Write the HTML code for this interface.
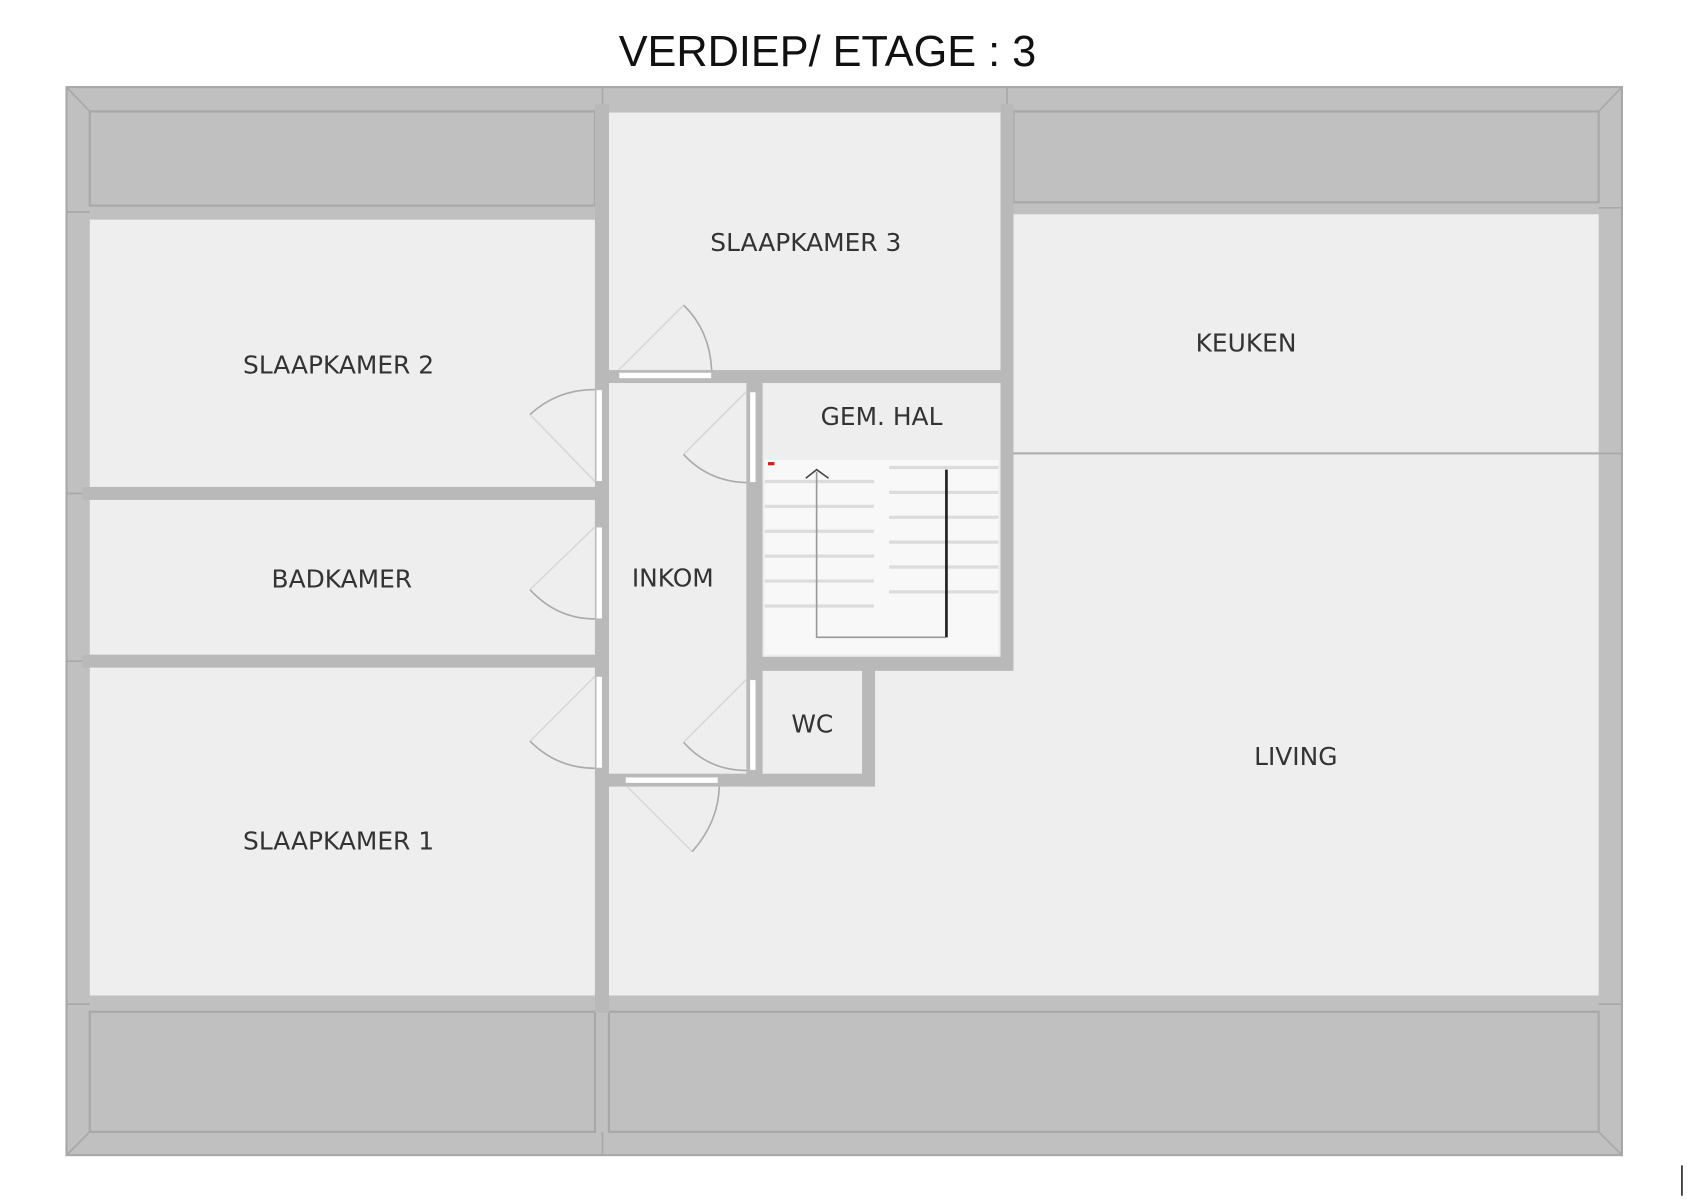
<!DOCTYPE html>
<html><head><meta charset="utf-8"><style>
html,body{margin:0;padding:0;background:#fff;}
svg{display:block;}
text{font-family:"DejaVu Sans","Liberation Sans",sans-serif;fill:#333;}
</style></head><body>
<svg width="1696" height="1200" viewBox="0 0 1568 1109" preserveAspectRatio="none" xmlns="http://www.w3.org/2000/svg">
<rect width="1568" height="1109" fill="#fff"/>
<text x="765" y="61" text-anchor="middle" font-size="40" style="font-family:'Liberation Sans',sans-serif;fill:#111">VERDIEP/ ETAGE : 3</text>
<!-- outer -->
<rect x="61.5" y="80.5" width="1438" height="987" fill="#c0c0c0" stroke="#a8a8a8" stroke-width="2"/>
<!-- roof bands inner rects -->
<g fill="#c0c0c0" stroke="#a8a8a8" stroke-width="2">
<rect x="83" y="103" width="467" height="87"/>
<rect x="937" y="103" width="541" height="84"/>
<rect x="83" y="935" width="467" height="111"/>
<rect x="563" y="935" width="915" height="111"/>
</g>
<g stroke="#a8a8a8" stroke-width="1.5" fill="none">
<line x1="61" y1="80" x2="83" y2="103"/><line x1="1500" y1="80" x2="1478" y2="103"/>
<line x1="61" y1="1068" x2="83" y2="1046"/><line x1="1500" y1="1068" x2="1478" y2="1046"/>
<line x1="61" y1="196" x2="83" y2="196"/><line x1="61" y1="456" x2="83" y2="456"/><line x1="61" y1="611" x2="83" y2="611"/>
<line x1="61" y1="928" x2="83" y2="928"/><line x1="1478" y1="928" x2="1500" y2="928"/><line x1="1478" y1="192" x2="1500" y2="192"/>
<line x1="1478" y1="419" x2="1500" y2="419"/>
<line x1="557" y1="80" x2="557" y2="103"/><line x1="931" y1="80" x2="931" y2="103"/>
<line x1="557" y1="1046" x2="557" y2="1068"/>
</g>
<!-- walls slightly darker between rooms -->
<g fill="#b9b9b9">
<rect x="550" y="96" width="13" height="840"/>
<rect x="925" y="96" width="12" height="525"/>
<rect x="76" y="450" width="480" height="12"/>
<rect x="76" y="605" width="480" height="12"/>
<rect x="556" y="342" width="375" height="12"/>
<rect x="690" y="342" width="15" height="385"/>
<rect x="690" y="607" width="247" height="13"/>
<rect x="797" y="607" width="12" height="120"/>
<rect x="556" y="715" width="253" height="12"/>
</g>
<!-- rooms -->
<g fill="#eeeeee">
<rect x="83" y="203" width="467" height="247"/>
<rect x="83" y="462" width="467" height="143"/>
<rect x="83" y="617" width="467" height="303"/>
<rect x="563" y="104" width="362" height="238"/>
<rect x="563" y="354" width="127" height="361"/>
<rect x="705" y="354" width="220" height="253"/>
<rect x="705" y="620" width="92" height="95"/>
<polygon points="937,198 1478,198 1478,920 563,920 563,727 809,727 809,620 937,620"/>
</g>
<line x1="937" y1="419" x2="1478" y2="419" stroke="#b0b0b0" stroke-width="2"/>
<!-- stairs -->
<rect x="707" y="425" width="216" height="180" fill="#f8f8f8"/>
<g stroke="#dcdcdc" stroke-width="3">
<line x1="707" y1="445" x2="808" y2="445"/><line x1="707" y1="468" x2="808" y2="468"/><line x1="707" y1="491" x2="808" y2="491"/><line x1="707" y1="514" x2="808" y2="514"/><line x1="707" y1="537" x2="808" y2="537"/><line x1="707" y1="560" x2="808" y2="560"/>
<line x1="822" y1="432" x2="923" y2="432"/><line x1="822" y1="455" x2="923" y2="455"/><line x1="822" y1="478" x2="923" y2="478"/><line x1="822" y1="501" x2="923" y2="501"/><line x1="822" y1="524" x2="923" y2="524"/><line x1="822" y1="547" x2="923" y2="547"/>
</g>
<polyline points="755,436 755,589 874,589" fill="none" stroke="#999" stroke-width="1.5"/>
<polyline points="745,442 755,434 766,442" fill="none" stroke="#444" stroke-width="1.5"/>
<line x1="875" y1="434" x2="875" y2="589" stroke="#222" stroke-width="2.5"/>
<rect x="710" y="427" width="6" height="3" fill="#c22"/>
<!-- door openings (white) -->
<g fill="#fff" stroke="#bbb" stroke-width="1">
<rect x="551" y="360" width="6" height="85"/>
<rect x="551" y="487" width="6" height="85"/>
<rect x="551" y="625" width="6" height="85"/>
<rect x="572" y="344" width="86" height="6"/>
<rect x="578" y="718" width="86" height="6"/>
<rect x="693" y="362" width="6" height="84"/>
<rect x="693" y="628" width="6" height="84"/>
</g>
<!-- door leaves and arcs -->
<g fill="none" stroke="#d8d8d8" stroke-width="1.5">
<line x1="550" y1="445" x2="490" y2="383"/><line x1="550" y1="487" x2="490" y2="545"/><line x1="550" y1="625" x2="490" y2="685"/>
<line x1="572" y1="342" x2="632" y2="282"/><line x1="580" y1="727" x2="640" y2="787"/>
<line x1="690" y1="362" x2="632" y2="420"/><line x1="690" y1="628" x2="632" y2="686"/>
</g>
<g fill="none" stroke="#aaa" stroke-width="1.5">
<path d="M490,383 Q515,360 550,360"/>
<path d="M490,545 Q515,572 550,572"/>
<path d="M490,685 Q515,710 550,710"/>
<path d="M632,282 Q656,305 658,342"/>
<path d="M640,787 Q664,760 665,727"/>
<path d="M632,420 Q655,445 690,446"/>
<path d="M632,686 Q655,712 690,712"/>
</g>
<line x1="1555" y1="1077" x2="1555" y2="1105" stroke="#222" stroke-width="1.5"/>
<!-- labels -->
<g font-size="23" text-anchor="middle">
<text x="313" y="345">SLAAPKAMER 2</text>
<text x="316" y="543">BADKAMER</text>
<text x="313" y="785">SLAAPKAMER 1</text>
<text x="745" y="232">SLAAPKAMER 3</text>
<text x="1152" y="325">KEUKEN</text>
<text x="815" y="393">GEM. HAL</text>
<text x="622" y="542">INKOM</text>
<text x="751" y="677">WC</text>
<text x="1198" y="707">LIVING</text>
</g>
</svg>
</body></html>
